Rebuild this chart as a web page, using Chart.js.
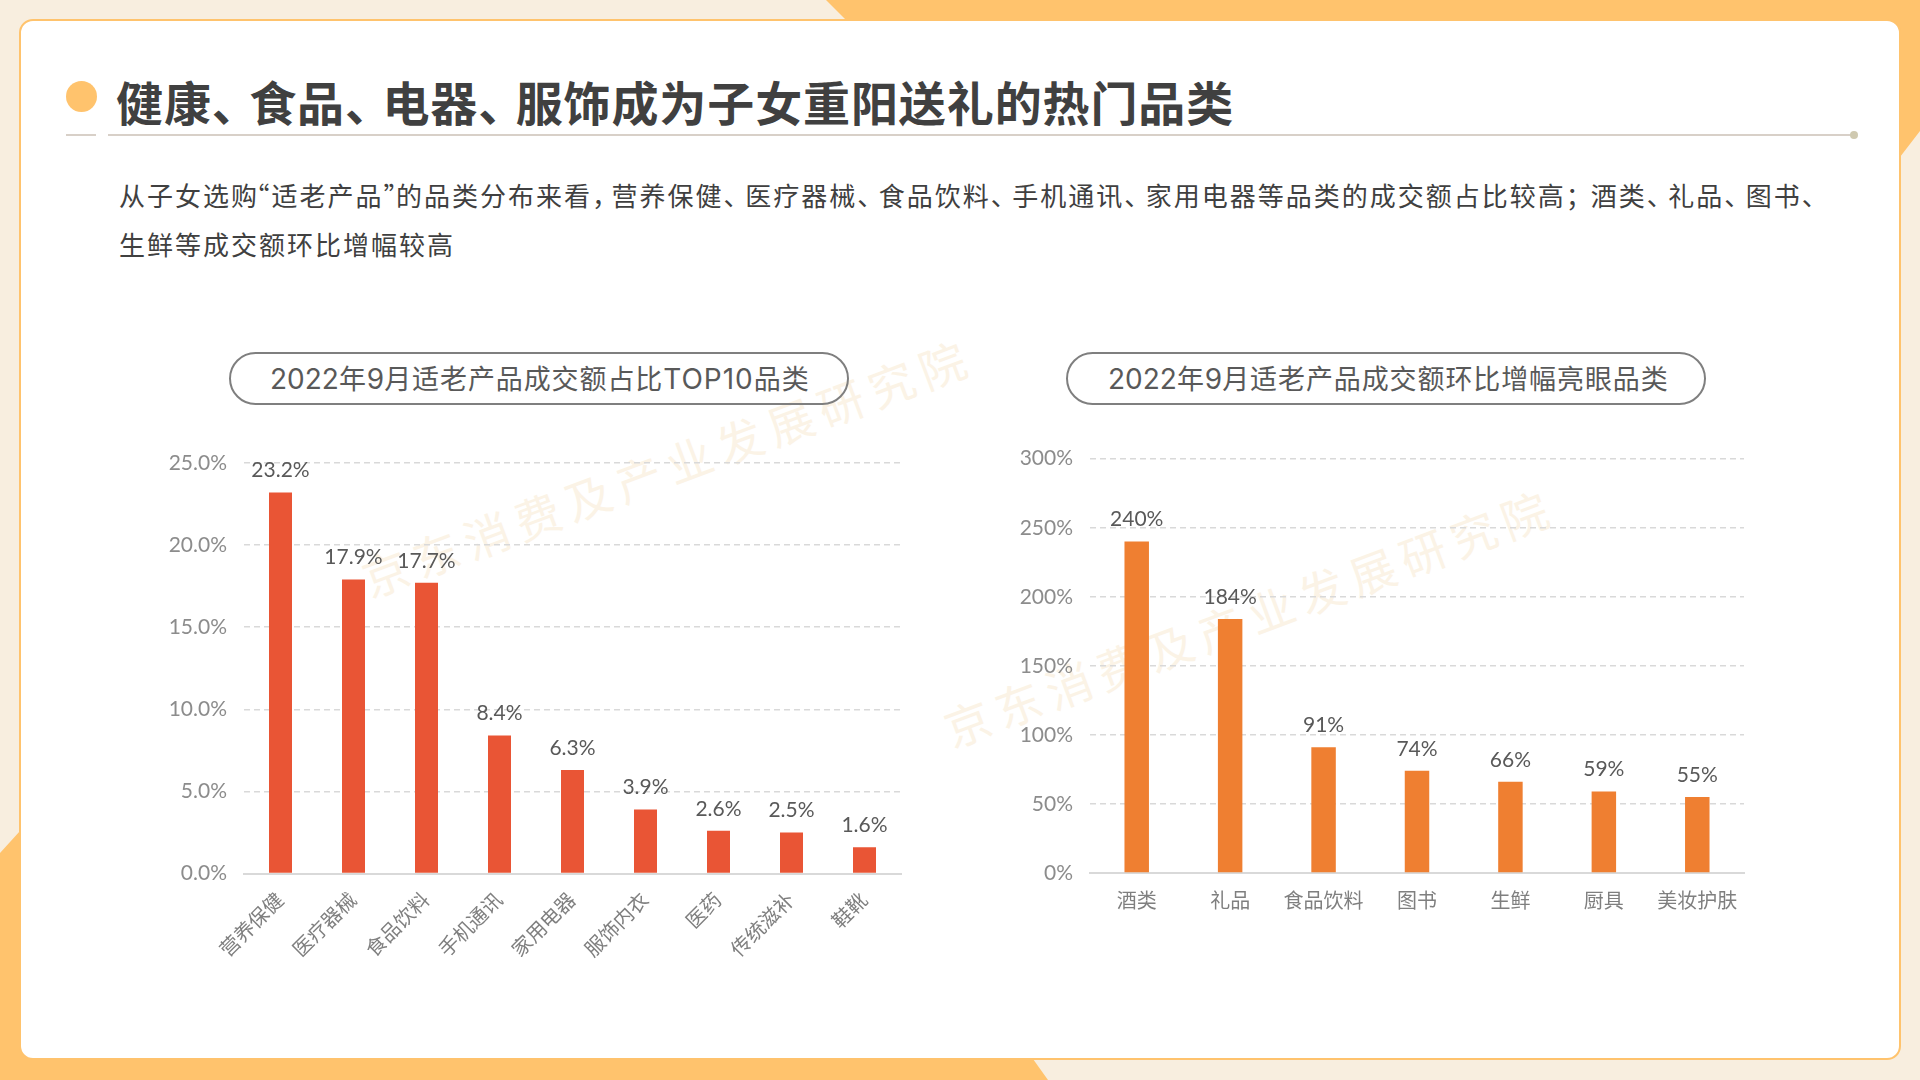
<!DOCTYPE html>
<html lang="zh-CN">
<head>
<meta charset="utf-8">
<title>适老产品品类</title>
<script src="https://cdn.jsdelivr.net/npm/chart.js@4"></script>
<style>
html,body{margin:0;padding:0;width:1920px;height:1080px;overflow:hidden;background:#F8EEDF;font-family:"Noto Sans CJK SC","Noto Sans",sans-serif;}
.abs{position:absolute;white-space:nowrap;}
#bg{position:absolute;left:0;top:0;}
#card{position:absolute;left:19px;top:19px;width:1878px;height:1037px;background:#fff;border:2px solid #FFC36D;border-radius:14px;}
#title{left:116px;top:71px;font-size:47px;line-height:60px;font-weight:700;color:#404040;letter-spacing:.9px;}
#title i{font-style:normal;margin-right:-10.5px;}
.dot{position:absolute;border-radius:50%;}
.rule{position:absolute;height:2px;background:#D8D0C8;}
.body{left:119px;font-size:26px;line-height:40px;color:#404040;letter-spacing:2px;}
.body .lq{margin-left:-15.5px;}
.body .rq{margin-right:-15.5px;}
.body .dun{margin-right:-6.5px;}
.body .com{margin-right:-8.5px;}
.body .sem{margin-right:-3px;}
.pill{position:absolute;box-sizing:border-box;top:352px;height:53px;border:2px solid #7F7F7F;border-radius:27px;}
.pilltext{top:358px;font-size:27px;line-height:40px;color:#595959;letter-spacing:.9px;}
.pilltext b{font-family:Inter,"Noto Sans",sans-serif;font-weight:400;font-size:28px;letter-spacing:0;}
.pilltext b.w{letter-spacing:1px;}
.wm{font-size:46px;line-height:60px;color:#FBF3E6;letter-spacing:8px;transform:translate(-50%,-50%) rotate(-20.5deg);}
canvas{position:absolute;}
</style>
</head>
<body>
<svg id="bg" width="1920" height="1080">
<polygon points="826,0 1920,0 1920,131 1890,170 1890,20 846,20" fill="#FFC36D"/>
<polygon points="0,853 30,820 30,1059 1033,1059 1048,1080 0,1080" fill="#FFC36D"/>
</svg>
<div id="card"></div>
<div class="abs wm" style="left:667px;top:466px;">京东消费及产业发展研究院</div>
<div class="abs wm" style="left:1249px;top:616px;">京东消费及产业发展研究院</div>

<div class="dot" style="left:66px;top:81px;width:31px;height:31px;background:#FFC36D;"></div>
<div class="abs" id="title">健康<i>、</i>食品<i>、</i>电器<i>、</i>服饰成为子女重阳送礼的热门品类</div>
<div class="rule" style="left:66px;top:134px;width:30px;"></div>
<div class="rule" style="left:108px;top:134px;width:1746px;"></div>
<div class="dot" style="left:1850px;top:131px;width:8px;height:8px;background:#CFC9B0;"></div>

<div class="abs body" style="top:175px;">从子女选购<span class="lq">“</span>适老产品<span class="rq">”</span>的品类分布来看<span class="com">，</span>营养保健<span class="dun">、</span>医疗器械<span class="dun">、</span>食品饮料<span class="dun">、</span>手机通讯<span class="dun">、</span>家用电器等品类的成交额占比较高<span class="sem">；</span>酒类<span class="dun">、</span>礼品<span class="dun">、</span>图书<span class="dun">、</span></div>
<div class="abs body" style="top:224px;">生鲜等成交额环比增幅较高</div>

<div class="pill" style="left:229px;width:620px;"></div>
<div class="abs pilltext" style="left:270px;"><b>2022</b>年<b>9</b>月适老产品成交额占比<b class="w">TOP10</b>品类</div>
<div class="pill" style="left:1066px;width:640px;"></div>
<div class="abs pilltext" style="left:1108px;"><b>2022</b>年<b>9</b>月适老产品成交额环比增幅亮眼品类</div>

<canvas id="left" style="left:160px;top:440px;width:760px;height:560px;"></canvas>
<canvas id="right" style="left:1000px;top:435px;width:760px;height:560px;"></canvas>

<script>
const leftCategories = ["营养保健","医疗器械","食品饮料","手机通讯","家用电器","服饰内衣","医药","传统滋补","鞋靴"];
const leftValues = [23.2,17.9,17.7,8.4,6.3,3.9,2.6,2.5,1.6];
const leftTicks = [0,5,10,15,20,25];
const rightCategories = ["酒类","礼品","食品饮料","图书","生鲜","厨具","美妆护肤"];
const rightValues = [240,184,91,74,66,59,55];
const rightTicks = [0,50,100,150,200,250,300];

const FONT = '"Noto Sans CJK SC","Noto Sans",sans-serif';
const NUMFONT = 'Lato,"Noto Sans",sans-serif';

const valueLabels = {
  id:'valueLabels',
  afterDatasetsDraw(chart, args, opts){
    const {ctx} = chart;
    const meta = chart.getDatasetMeta(0);
    ctx.save();
    ctx.font = '21px '+NUMFONT;
    ctx.fillStyle = '#595959';
    ctx.textAlign = 'center';
    ctx.textBaseline = 'middle';
    meta.data.forEach((bar,i)=>{
      ctx.fillText(opts.format(chart.data.datasets[0].data[i]), bar.x, bar.y - 22);
    });
    ctx.restore();
  }
};

function makeChart(id, cats, vals, ticks, color, fmt, pct, axisW, axisH, pad, rot, tickPad, labelOffset){
  return new Chart(document.getElementById(id), {
    type:'bar',
    data:{labels:cats,datasets:[{data:vals,backgroundColor:color,barPercentage:pct,categoryPercentage:1,borderWidth:0}]},
    plugins:[valueLabels],
    options:{
      responsive:false,animation:false,devicePixelRatio:1,
      layout:{padding:pad},
      plugins:{legend:{display:false},tooltip:{enabled:false},title:{display:false},valueLabels:{format:fmt}},
      scales:{
        x:{
          grid:{display:false,drawTicks:false},
          border:{display:true,color:'#D9D9D9',width:2},
          ticks:{color:'#7F7F7F',font:{family:FONT,size:20},autoSkip:false,maxRotation:rot,minRotation:rot,padding:tickPad,labelOffset:labelOffset},
          afterFit(s){s.height=axisH;s.paddingLeft=0;s.paddingRight=0;}
        },
        y:{
          min:ticks[0],max:ticks[ticks.length-1],
          afterBuildTicks(s){s.ticks=ticks.map(v=>({value:v}));},
          afterFit(s){s.width=axisW;s.paddingTop=0;s.paddingBottom=0;},
          grid:{drawTicks:false,lineWidth:1.5,color:c=>c.tick.value===0?'rgba(0,0,0,0)':'#D9D9D9'},
          border:{display:false,dash:[6,4]},
          ticks:{color:'#8C8C8C',font:{family:NUMFONT,size:21},padding:17,callback:v=>fmt(v,true)}
        }
      }
    }
  });
}
function size(id,w,h){const c=document.getElementById(id);c.width=w;c.height=h;}
size('left',760,560);size('right',760,560);
makeChart('left',leftCategories,leftValues,leftTicks,'#E95535',v=>v.toFixed(1)+'%',0.315,84,126.5,{top:23,right:19,left:0,bottom:0},45,14,-1);
makeChart('right',rightCategories,rightValues,rightTicks,'#EF7F31',v=>v+'%',0.262,90,122,{top:23.7,right:16,left:0,bottom:0},0,15,0);
</script>
</body>
</html>
